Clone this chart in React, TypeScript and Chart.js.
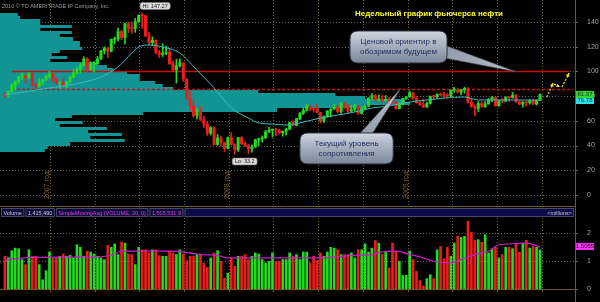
import React, { useEffect, useRef } from "react";
import { Chart, registerables } from "chart.js";

Chart.register(...registerables);

const FONT = "'Liberation Sans', Arial, 'DejaVu Sans', sans-serif";

// ---------- weekly candles (index 0 = week of 1 Oct 2007) ----------
const OPEN = [
  81.66, 81.22, 83.69, 88.60, 91.86, 95.93, 96.32, 95.10, 98.18, 88.71,
  88.28, 91.27, 93.31, 96.00, 97.91, 92.69, 90.57, 90.71, 88.96, 91.77,
  95.50, 98.81, 101.84, 105.15, 110.21, 101.84, 105.62, 106.23, 110.14, 116.69,
  118.52, 116.32, 125.96, 126.29, 132.19, 127.35, 138.54, 134.86, 134.62, 140.21,
  145.29, 145.08, 128.88, 123.26, 125.10, 115.20, 113.77, 114.59, 115.46, 106.23,
  101.18, 104.55, 106.89, 93.88, 77.70, 71.85, 64.15, 67.81, 61.04, 57.04,
  49.93, 54.43, 40.81, 46.28, 42.36, 37.71, 46.34, 40.83, 36.51, 46.47,
  41.68, 40.17, 37.51, 38.94, 44.76, 45.52, 46.25, 51.06, 52.38, 52.51,
  52.24, 50.33, 51.55, 53.20, 58.63, 56.34, 61.67, 66.31, 68.44, 72.04,
  69.55, 69.16, 66.73, 59.89, 63.56, 68.05, 69.45, 70.93, 67.51, 73.89,
  72.74, 68.02, 69.29, 72.04, 66.02, 69.95, 71.77, 78.53, 80.50, 77.00,
  77.43, 76.35, 76.72, 76.05, 75.47, 69.87, 73.36, 78.05, 79.36, 82.75,
  78.00, 74.54, 72.89, 71.19, 74.13, 79.81, 79.66, 81.50, 81.24, 80.68,
  80.00, 84.87, 84.92, 83.24, 85.12, 86.15, 75.11, 71.61, 70.04, 74.00,
  71.51, 73.78, 77.18, 78.86, 72.14, 76.09, 76.01, 78.98, 78.95, 80.70,
  75.39, 73.46, 75.17, 74.60, 76.45, 73.66, 76.49,
];
const HIGH = [
  82.10, 84.05, 90.07, 92.22, 96.24, 98.62, 96.85, 99.29, 98.20, 90.70,
  94.35, 93.46, 97.00, 100.09, 98.66, 94.70, 91.00, 93.82, 92.18, 96.67,
  101.32, 103.05, 106.54, 111.80, 111.10, 107.90, 108.00, 112.21, 117.00, 119.93,
  119.50, 126.20, 127.82, 135.09, 133.00, 139.12, 139.89, 139.89, 142.99, 145.85,
  147.27, 145.18, 131.60, 128.00, 125.50, 117.00, 122.30, 120.40, 118.40, 108.40,
  110.00, 110.10, 106.98, 94.00, 83.95, 76.40, 69.95, 71.33, 63.90, 59.62,
  55.26, 54.80, 49.00, 47.70, 42.90, 46.90, 50.47, 41.50, 46.60, 47.20,
  43.10, 40.90, 40.50, 45.20, 46.00, 47.80, 52.40, 54.66, 53.50, 53.90,
  53.20, 51.80, 54.10, 58.70, 60.10, 62.26, 66.65, 70.32, 73.23, 72.50,
  71.10, 73.38, 66.90, 64.00, 68.30, 69.90, 73.39, 72.40, 74.72, 75.00,
  73.00, 72.30, 73.30, 72.10, 70.80, 72.50, 78.69, 82.00, 81.40, 81.00,
  80.50, 80.51, 79.00, 79.00, 75.70, 74.50, 78.20, 79.50, 83.95, 82.90,
  79.70, 75.80, 77.70, 75.20, 80.20, 80.50, 81.80, 82.30, 83.00, 82.00,
  85.10, 87.09, 86.00, 85.50, 87.15, 87.00, 78.00, 73.00, 75.70, 75.50,
  75.50, 78.00, 79.80, 79.30, 76.70, 78.00, 79.60, 79.40, 82.97, 81.30,
  76.30, 75.50, 76.00, 77.00, 77.60, 77.00, 81.90,
];
const LOW = [
  79.40, 79.10, 83.20, 84.97, 90.20, 93.70, 90.56, 94.00, 88.09, 86.18,
  87.24, 89.00, 92.60, 94.60, 91.70, 89.48, 86.11, 88.11, 86.82, 90.90,
  95.00, 97.80, 98.50, 104.30, 100.01, 100.50, 99.55, 105.70, 109.50, 114.10,
  111.20, 115.70, 122.20, 124.50, 125.61, 122.30, 131.41, 131.00, 131.60, 139.50,
  135.00, 127.82, 121.52, 120.80, 114.20, 111.34, 112.00, 113.40, 105.46, 100.10,
  90.51, 103.50, 92.00, 77.60, 68.57, 62.85, 61.30, 60.11, 54.67, 48.25,
  48.50, 40.50, 40.30, 39.50, 35.13, 37.30, 40.50, 33.20, 35.20, 40.80,
  39.10, 33.55, 34.60, 38.40, 40.00, 42.80, 45.60, 50.50, 46.80, 48.10,
  49.20, 47.50, 48.50, 52.90, 55.80, 55.90, 60.90, 65.05, 67.80, 68.30,
  67.10, 66.50, 58.32, 58.80, 63.00, 63.05, 69.20, 66.30, 66.10, 70.00,
  66.50, 67.00, 67.60, 65.05, 65.50, 68.80, 71.20, 77.00, 76.50, 76.00,
  75.10, 76.00, 72.40, 74.20, 69.50, 69.70, 73.30, 77.30, 79.10, 77.40,
  74.30, 72.40, 70.60, 70.70, 73.50, 77.00, 78.10, 80.20, 78.70, 78.60,
  79.50, 83.00, 82.50, 80.90, 82.40, 74.30, 70.80, 64.24, 67.50, 71.00,
  70.80, 73.40, 75.50, 71.90, 71.80, 74.60, 75.50, 75.80, 78.30, 74.90,
  73.00, 71.10, 71.90, 73.50, 73.00, 72.70, 76.30,
];
const CLOSE = [
  81.22, 83.69, 88.60, 91.86, 95.93, 96.32, 95.10, 98.18, 88.71, 88.28,
  91.27, 93.31, 96.00, 97.91, 92.69, 90.57, 90.71, 88.96, 91.77, 95.50,
  98.81, 101.84, 105.15, 110.21, 101.84, 105.62, 106.23, 110.14, 116.69, 118.52,
  116.32, 125.96, 126.29, 132.19, 127.35, 138.54, 134.86, 134.62, 140.21, 145.29,
  145.08, 128.88, 123.26, 125.10, 115.20, 113.77, 114.59, 115.46, 106.23, 101.18,
  104.55, 106.89, 93.88, 77.70, 71.85, 64.15, 67.81, 61.04, 57.04, 49.93,
  54.43, 40.81, 46.28, 42.36, 37.71, 46.34, 40.83, 36.51, 46.47, 41.68,
  40.17, 37.51, 38.94, 44.76, 45.52, 46.25, 51.06, 52.38, 52.51, 52.24,
  50.33, 51.55, 53.20, 58.63, 56.34, 61.67, 66.31, 68.44, 72.04, 69.55,
  69.16, 66.73, 59.89, 63.56, 68.05, 69.45, 70.93, 67.51, 73.89, 72.74,
  68.02, 69.29, 72.04, 66.02, 69.95, 71.77, 78.53, 80.50, 77.00, 77.43,
  76.35, 76.72, 76.05, 75.47, 69.87, 73.36, 78.05, 79.36, 82.75, 78.00,
  74.54, 72.89, 71.19, 74.13, 79.81, 79.66, 81.50, 81.24, 80.68, 80.00,
  84.87, 84.92, 83.24, 85.12, 86.15, 75.11, 71.61, 70.04, 74.00, 71.51,
  73.78, 77.18, 78.86, 72.14, 76.09, 76.01, 78.98, 78.95, 80.70, 75.39,
  73.46, 75.17, 74.60, 76.45, 73.66, 76.49, 81.37,
];
// weekly volume, millions
const VOLUME = [
  1.17, 1.11, 1.37, 1.46, 1.44, 1.05, 0.87, 1.40, 1.17, 1.17,
  0.87, 0.33, 0.65, 1.32, 1.11, 1.11, 1.17, 1.25, 1.17, 1.20,
  1.11, 1.58, 1.49, 1.17, 1.35, 1.32, 1.25, 1.17, 1.11, 1.05,
  1.56, 1.49, 1.61, 1.23, 1.68, 1.64, 1.25, 1.23, 0.87, 1.49,
  1.40, 1.40, 1.29, 1.40, 1.40, 1.19, 1.17, 1.17, 1.35, 1.29,
  1.23, 1.40, 1.25, 1.01, 1.17, 1.17, 1.23, 1.23, 0.93, 0.77,
  1.11, 1.29, 1.37, 0.99, 0.39, 0.57, 1.11, 0.81, 1.17, 1.17,
  1.23, 1.05, 1.17, 1.29, 1.25, 1.05, 0.93, 0.99, 1.29, 0.99,
  0.99, 1.05, 1.05, 1.29, 1.17, 1.23, 1.05, 1.32, 1.32, 0.93,
  1.17, 1.02, 1.29, 1.17, 1.32, 1.49, 1.46, 1.40, 1.23, 1.23,
  1.23, 1.29, 1.11, 1.40, 1.40, 1.61, 1.32, 1.46, 1.73, 1.64,
  1.23, 1.35, 0.75, 1.64, 1.35, 0.99, 0.48, 0.49, 1.35, 1.05,
  0.63, 0.30, 0.10, 0.37, 0.51, 0.37, 1.40, 1.52, 1.08, 1.49,
  1.17, 1.64, 1.88, 1.85, 1.88, 2.42, 2.02, 1.74, 1.76, 1.67,
  1.94, 1.29, 1.44, 1.49, 1.11, 1.23, 1.49, 1.49, 1.44, 1.61,
  1.31, 1.64, 1.74, 1.46, 1.52, 1.49, 1.40,
];
// moving average of price: [week, price]
const PRICE_MA = [
  [0, 81], [13, 86.6], [22, 90.6], [28, 95.5], [33, 103.6], [39, 119.7], [42, 121.4],
  [46, 119.7], [51, 114.9], [56, 101], [61, 86.6], [66, 70.5], [71, 62.3], [74, 58.3],
  [78, 57.4], [82, 56.6], [87, 59], [92, 62.3], [97, 64.7], [102, 67.2], [107, 70.4],
  [112, 72], [116, 74.4], [123, 76.9], [134, 79.3], [138, 76.9], [146, 76.9], [156, 76.78],
];
// SimpleMovingAvg(VOLUME,20): [week, millions]
const VOLUME_SMA = [
  [0, 1.02], [8, 1.13], [28, 1.15], [32, 1.25], [34, 1.35], [49, 1.35], [53, 1.3],
  [57, 1.23], [62, 1.2], [65, 1.11], [86, 1.11], [96, 1.13], [101, 1.2], [107, 1.23],
  [110, 1.33], [114, 1.35], [118, 1.23], [121, 1.15], [125, 0.99], [130, 0.93],
  [133, 1.05], [137, 1.23], [141, 1.35], [144, 1.58], [149, 1.62], [152, 1.64], [156, 1.5055],
];
// volume-at-price profile: lower edge of each 2.5 bin and relative size (% of width)
const PROFILE_STEP = 2.5;
const PROFILE_LOW = [
  35, 37.5, 40, 42.5, 45, 47.5, 50, 52.5, 55, 57.5, 60, 62.5, 65, 67.5, 70, 72.5,
  75, 77.5, 80, 82.5, 85, 87.5, 90, 92.5, 95, 97.5, 100, 102.5, 105, 107.5, 110,
  112.5, 115, 117.5, 120, 122.5, 125, 127.5, 130, 132.5, 135, 137.5, 140, 142.5, 145,
];
const PROFILE_SIZE = [
  7.8, 8.3, 12.2, 21.7, 15.7, 21.2, 15.3, 18.6, 10.4, 14.4, 9.6, 12.5, 24.9, 48.2, 63.5, 71.3,
  70.4, 63.5, 58.3, 44.9, 30.1, 28.3, 27.0, 24.3, 24.3, 22.1, 19.7, 18.6, 16.9, 8.7, 11.7,
  9.0, 10.4, 14.3, 13.9, 13.9, 12.7, 10.4, 12.5, 7.0, 12.5, 7.0, 7.0, 3.5, 3.1,
];
// time axis (quarter starts, in weeks)
const QUARTER_POS = [13.14, 26.14, 39.14, 52.29, 65.43, 78.29, 91.29, 104.43, 117.57, 130.43, 143.43, 156.57];
const QUARTER_LABELS = ["08", "апр", "июл", "окт", "09", "апр", "июл", "окт", "10", "апр", "июл", "окт"];
const YEAR_LINE_POS = [13.14, 65.43, 117.57];
const YEAR_TEXTS = ["2007 год", "2008 год", "2009 год"];
const PRICE_TICKS = [0, 20, 40, 60, 80, 100, 120, 140];
const VOLUME_TICKS = [0, 1, 2];
const X_MIN = -1.43;
const X_MAX = 166.2;
const TARGET_LEVEL = 100;
const RESIST_LEVEL = 85.5;
const LEVEL_FROM = 2.1;
const TARGET_TO = 164.4;
const RESIST_TO = 165.8;
const LAST_MA = 76.78;
const CALLOUT_TEXTS = [["Ценовой ориентир в", "обозримом будущем"], ["Текущий уровень", "сопротивления"]];
const CALLOUT_BOX = [[100.6, 128.9, 132.7, 106.8], [86.0, 113.2, 50.2, 25.1]];
const CALLOUT_BASE = [[[126.5, 123.0], [126.5, 111.7]], [[102.4, 46.5], [106.4, 46.5]]];
const CALLOUT_TIP = [[149.3, 99.5], [115.5, 86.6]];
const ARROWS = [
  [[158.0, 79.3], [159.8, 90.6]],
  [[160.1, 89.8], [161.8, 87.4]],
  [[162.4, 87.4], [164.5, 98.7]],
];
const HEADER_TEXT = ["Volume", "1,415,490", "SimpleMovingAvg (VOLUME, 20, 0)", "1,505,531.9"];
const HEADER_COLOR = ["#c9c9dc", "#c9c9dc", "#e040e0", "#e040e0"];

const UP = "#22dc22";
const DOWN = "#ee1d1d";
const GOLD = "#6e5a2a";
const GRID_GOLD = "rgba(125,100,45,0.95)";
const GRID_GREY = "rgba(105,105,105,0.9)";
const PROFILE_COLOR = "#129494";
const MA_COLOR = "#38bcbc";
const SMA_COLOR = "#c41fc4";

const candleColors = CLOSE.map((c, i) => (c >= OPEN[i] ? UP : DOWN));

function seg(ctx: any, x0: number, y0: number, x1: number, y1: number) {
  ctx.beginPath();
  ctx.moveTo(x0, y0);
  ctx.lineTo(x1, y1);
  ctx.stroke();
}
function dotted(ctx: any, x0: number, y0: number, x1: number, y1: number, color: string) {
  ctx.save();
  ctx.strokeStyle = color;
  ctx.lineWidth = 1;
  ctx.setLineDash([1, 2]);
  seg(ctx, x0, y0, x1, y1);
  ctx.restore();
}
function rrect(ctx: any, x: number, y: number, w: number, h: number, r: number) {
  ctx.beginPath();
  ctx.moveTo(x + r, y);
  ctx.lineTo(x + w - r, y);
  ctx.quadraticCurveTo(x + w, y, x + w, y + r);
  ctx.lineTo(x + w, y + h - r);
  ctx.quadraticCurveTo(x + w, y + h, x + w - r, y + h);
  ctx.lineTo(x + r, y + h);
  ctx.quadraticCurveTo(x, y + h, x, y + h - r);
  ctx.lineTo(x, y + r);
  ctx.quadraticCurveTo(x, y, x + r, y);
  ctx.closePath();
}
function valueBox(ctx: any, left: number, cy: number, text: string, bg: string, fg: string) {
  ctx.fillStyle = bg;
  ctx.fillRect(left, Math.round(cy - 3.5), 18, 7);
  ctx.fillStyle = fg;
  ctx.font = `6px ${FONT}`;
  ctx.textAlign = "center";
  ctx.textBaseline = "middle";
  ctx.fillText(text, left + 9, Math.round(cy - 3.5) + 3.8);
}
function tagLabel(ctx: any, text: string, left: number, top: number) {
  ctx.font = `5.5px ${FONT}`;
  const w = ctx.measureText(text).width + 5;
  rrect(ctx, left, top, w, 7, 2);
  ctx.fillStyle = "#dcdcdc";
  ctx.fill();
  ctx.strokeStyle = "#777";
  ctx.lineWidth = 0.6;
  ctx.stroke();
  ctx.fillStyle = "#111";
  ctx.textAlign = "left";
  ctx.textBaseline = "middle";
  ctx.fillText(text, left + 2.5, top + 3.8);
}

const pricePlugin = {
  id: "priceDecor",
  beforeDatasetsDraw(chart: any) {
    const { ctx, chartArea: ca, scales } = chart;
    const x = scales.x, y = scales.y, xp = scales.xp;
    ctx.save();
    PRICE_TICKS.forEach((v) => {
      const py = Math.round(y.getPixelForValue(v)) + 0.5;
      dotted(ctx, ca.left, py, ca.right, py, GRID_GREY);
    });
    QUARTER_POS.forEach((v) => {
      const px = Math.round(x.getPixelForValue(v)) + 0.5;
      dotted(ctx, px, ca.top, px, ca.bottom, GRID_GOLD);
    });
    ctx.fillStyle = PROFILE_COLOR;
    PROFILE_LOW.forEach((lo, k) => {
      const yt = Math.round(y.getPixelForValue(lo + PROFILE_STEP));
      const yb = Math.round(y.getPixelForValue(lo));
      const xr = xp.getPixelForValue(PROFILE_SIZE[k]);
      ctx.fillRect(ca.left, yt, xr - ca.left, yb - yt);
    });
    // key levels
    ctx.strokeStyle = "#c21212";
    ctx.lineWidth = 1.5;
    const yt = Math.round(y.getPixelForValue(TARGET_LEVEL)) + 0.5;
    seg(ctx, x.getPixelForValue(LEVEL_FROM), yt, x.getPixelForValue(TARGET_TO), yt);
    ctx.strokeStyle = "#c01818";
    ctx.lineWidth = 1.3;
    ctx.setLineDash([3, 2]);
    const yr = Math.round(y.getPixelForValue(RESIST_LEVEL)) + 0.5;
    seg(ctx, x.getPixelForValue(LEVEL_FROM), yr, x.getPixelForValue(RESIST_TO), yr);
    ctx.restore();
  },
  afterDraw(chart: any) {
    const { ctx, chartArea: ca, scales } = chart;
    const X = (v: number) => scales.x.getPixelForValue(v);
    const Y = (v: number) => scales.y.getPixelForValue(v);
    ctx.save();
    // right axis
    ctx.strokeStyle = GOLD;
    ctx.lineWidth = 1;
    seg(ctx, ca.right + 0.5, 0, ca.right + 0.5, chart.height);
    PRICE_TICKS.forEach((v) => {
      const py = Math.round(Y(v)) + 0.5;
      seg(ctx, ca.right, py, ca.right + 3, py);
    });
    // year texts
    ctx.fillStyle = "#7f6631";
    ctx.font = `7px ${FONT}`;
    YEAR_LINE_POS.forEach((pos, k) => {
      ctx.save();
      ctx.translate(X(pos) - 2.5, ca.bottom - 7);
      ctx.rotate(-Math.PI / 2);
      ctx.textAlign = "left";
      ctx.textBaseline = "middle";
      ctx.fillText(YEAR_TEXTS[k], 0, 0);
      ctx.restore();
    });
    // copyright + title
    ctx.fillStyle = "#9d9d9d";
    ctx.font = `5.5px ${FONT}`;
    ctx.textAlign = "left";
    ctx.textBaseline = "middle";
    ctx.fillText("2010 © TD AMERITRADE IP Company, Inc.", ca.left + 2, ca.top + 6);
    ctx.fillStyle = "#ffff2e";
    ctx.font = `bold 8px ${FONT}`;
    ctx.textAlign = "center";
    ctx.fillText("Недельный график фьючерса нефти", ca.left + 429, ca.top + 14);
    // hi / lo tags
    const hi = HIGH.indexOf(Math.max(...HIGH));
    const lo = LOW.indexOf(Math.min(...LOW));
    tagLabel(ctx, `Hi: ${HIGH[hi]}`, X(hi) - 2, Y(HIGH[hi]) - 10.5);
    tagLabel(ctx, `Lo: ${LOW[lo]}`, X(lo) - 2.5, Y(LOW[lo]) + 4);
    // callouts
    CALLOUT_BOX.forEach((b, k) => {
      const [w0, w1, pt, pb] = b;
      const x0 = X(w0), x1 = X(w1), y0 = Y(pt), y1 = Y(pb);
      const [b1, b2] = CALLOUT_BASE[k];
      const tip = CALLOUT_TIP[k];
      ctx.beginPath();
      ctx.moveTo(X(b1[0]), Y(b1[1]));
      ctx.lineTo(X(tip[0]), Y(tip[1]));
      ctx.lineTo(X(b2[0]), Y(b2[1]));
      ctx.closePath();
      const tg = ctx.createLinearGradient(X(b1[0]), Y(b1[1]), X(tip[0]), Y(tip[1]));
      tg.addColorStop(0, "rgba(150,160,178,0.95)");
      tg.addColorStop(1, "rgba(205,210,220,0.9)");
      ctx.fillStyle = tg;
      ctx.fill();
      ctx.strokeStyle = "rgba(60,66,78,0.9)";
      ctx.lineWidth = 0.7;
      ctx.stroke();
      const g = ctx.createLinearGradient(0, y0, 0, y1);
      g.addColorStop(0, "#cfd6e0");
      g.addColorStop(0.45, "#a6b0c0");
      g.addColorStop(1, "#7b879b");
      rrect(ctx, x0, y0, x1 - x0, y1 - y0, 8);
      ctx.fillStyle = g;
      ctx.fill();
      ctx.strokeStyle = "#2c323d";
      ctx.lineWidth = 1;
      ctx.stroke();
      ctx.fillStyle = "#1b2b58";
      ctx.font = `8px ${FONT}`;
      ctx.textAlign = "center";
      ctx.textBaseline = "middle";
      const lines = CALLOUT_TEXTS[k];
      const cx = (x0 + x1) / 2, cy = (y0 + y1) / 2;
      lines.forEach((t, i) => ctx.fillText(t, cx, cy + (i - (lines.length - 1) / 2) * 10));
    });
    // yellow dashed arrows
    ctx.strokeStyle = "#f2e41c";
    ctx.fillStyle = "#f2e41c";
    ctx.lineWidth = 1.2;
    ARROWS.forEach(([a, b]) => {
      const ax = X(a[0]), ay = Y(a[1]), bx = X(b[0]), by = Y(b[1]);
      ctx.setLineDash([2, 1.5]);
      seg(ctx, ax, ay, bx, by);
      ctx.setLineDash([]);
      const ang = Math.atan2(by - ay, bx - ax);
      const L = 4;
      ctx.beginPath();
      ctx.moveTo(bx, by);
      ctx.lineTo(bx - L * Math.cos(ang - 0.5), by - L * Math.sin(ang - 0.5));
      ctx.lineTo(bx - L * Math.cos(ang + 0.5), by - L * Math.sin(ang + 0.5));
      ctx.closePath();
      ctx.fill();
    });
    // last values on axis
    valueBox(ctx, ca.right + 1, Y(LAST_MA), LAST_MA.toFixed(2), "#2fe0e0", "#083060");
    const last = CLOSE[CLOSE.length - 1];
    valueBox(ctx, ca.right + 1, Y(last), last.toFixed(2), "#30d830", "#0a2a0a");
    ctx.restore();
  },
};

const volumePlugin = {
  id: "volumeDecor",
  beforeDatasetsDraw(chart: any) {
    const { ctx, chartArea: ca, scales } = chart;
    ctx.save();
    VOLUME_TICKS.slice(1).forEach((v) => {
      const py = Math.round(scales.y.getPixelForValue(v)) + 0.5;
      dotted(ctx, ca.left, py, ca.right, py, GRID_GREY);
    });
    QUARTER_POS.forEach((v) => {
      const px = Math.round(scales.x.getPixelForValue(v)) + 0.5;
      dotted(ctx, px, ca.top, px, ca.bottom, GRID_GOLD);
    });
    ctx.restore();
  },
  afterDraw(chart: any) {
    const { ctx, chartArea: ca, scales } = chart;
    ctx.save();
    ctx.strokeStyle = GOLD;
    ctx.lineWidth = 1;
    seg(ctx, 0, 0.5, ca.right, 0.5);
    seg(ctx, ca.right + 0.5, 0, ca.right + 0.5, chart.height);
    seg(ctx, ca.left, ca.bottom + 0.5, ca.right, ca.bottom + 0.5);
    VOLUME_TICKS.forEach((v) => {
      const py = Math.round(scales.y.getPixelForValue(v)) + 0.5;
      seg(ctx, ca.right, py, ca.right + 3, py);
    });
    QUARTER_POS.forEach((v) => {
      const px = Math.round(scales.x.getPixelForValue(v)) + 0.5;
      seg(ctx, px, ca.bottom, px, ca.bottom + 3);
    });
    // header
    ctx.font = `5.5px ${FONT}`;
    ctx.textBaseline = "middle";
    let left = 1;
    const top = 2, h = 9;
    HEADER_TEXT.forEach((t, i) => {
      const w = ctx.measureText(t).width + 5;
      ctx.fillStyle = "#0d0d3c";
      ctx.fillRect(left, top, w, h);
      ctx.strokeStyle = "#474766";
      ctx.strokeRect(left + 0.5, top + 0.5, w - 1, h - 1);
      ctx.fillStyle = HEADER_COLOR[i];
      ctx.textAlign = "left";
      ctx.fillText(t, left + 2.5, top + h / 2 + 0.5);
      left += w + 1;
    });
    ctx.fillStyle = "#0c0c4a";
    ctx.fillRect(left, top, ca.right - 1 - left, h);
    ctx.strokeStyle = "#474766";
    ctx.strokeRect(left + 0.5, top + 0.5, ca.right - 2 - left, h - 1);
    ctx.fillStyle = "#c4c4d4";
    ctx.textAlign = "right";
    ctx.fillText("<millions>", ca.right - 3, top + h / 2 + 0.5);
    // last SMA value
    const lastSma = VOLUME_SMA[VOLUME_SMA.length - 1][1];
    valueBox(ctx, ca.right + 1, scales.y.getPixelForValue(lastSma), lastSma.toFixed(4), "#ff34ff", "#2a002a");
    ctx.restore();
  },
};

const tickFont = { size: 7, family: FONT };

export default function App() {
  const priceRef = useRef<HTMLCanvasElement>(null);
  const volRef = useRef<HTMLCanvasElement>(null);

  useEffect(() => {
    document.body.style.margin = "0";
    document.body.style.background = "#000";
    Chart.defaults.font.family = FONT;

    const price = new Chart(priceRef.current as HTMLCanvasElement, {
      type: "bar",
      data: {
        datasets: [
          {
            type: "line",
            data: PRICE_MA.map(([x, y]) => ({ x, y })),
            borderColor: MA_COLOR,
            borderWidth: 1,
            pointRadius: 0,
            cubicInterpolationMode: "monotone",
            xAxisID: "x",
            yAxisID: "y",
            order: 0,
          } as any,
          {
            data: OPEN.map((o, i) => ({ x: i, y: [o, CLOSE[i]] })),
            backgroundColor: candleColors,
            barThickness: 2.4,
            minBarLength: 1,
            grouped: false,
            xAxisID: "x",
            yAxisID: "y",
            order: 1,
          } as any,
          {
            data: LOW.map((l, i) => ({ x: i, y: [l, HIGH[i]] })),
            backgroundColor: candleColors,
            barThickness: 1,
            grouped: false,
            xAxisID: "x",
            yAxisID: "y",
            order: 2,
          } as any,
        ],
      },
      options: {
        animation: false,
        responsive: false,
        maintainAspectRatio: false,
        events: [],
        layout: { padding: 0, autoPadding: false } as any,
        plugins: { legend: { display: false }, tooltip: { enabled: false } },
        scales: {
          x: { type: "linear", min: X_MIN, max: X_MAX, display: false, offset: false },
          xp: { type: "linear", axis: "x", position: "top", min: 0, max: 100, display: false, offset: false } as any,
          y: {
            type: "linear",
            position: "right",
            min: -8.9,
            max: 157.77,
            grid: { display: false },
            border: { display: false },
            afterBuildTicks: (s: any) => {
              s.ticks = PRICE_TICKS.map((v) => ({ value: v }));
            },
            afterFit: (s: any) => {
              s.width = 25;
              s.paddingTop = 0;
              s.paddingBottom = 0;
            },
            ticks: { color: "#a8a8a8", font: tickFont, padding: 4, callback: (v: any) => String(v) },
          },
        },
      } as any,
      plugins: [pricePlugin],
    });

    const volume = new Chart(volRef.current as HTMLCanvasElement, {
      type: "bar",
      data: {
        datasets: [
          {
            type: "line",
            data: VOLUME_SMA.map(([x, y]) => ({ x, y })),
            borderColor: SMA_COLOR,
            borderWidth: 1.2,
            pointRadius: 0,
            cubicInterpolationMode: "monotone",
            order: 0,
          } as any,
          {
            data: VOLUME.map((v, i) => ({ x: i, y: v })),
            backgroundColor: candleColors,
            barThickness: 2,
            grouped: false,
            order: 1,
          } as any,
        ],
      },
      options: {
        animation: false,
        responsive: false,
        maintainAspectRatio: false,
        events: [],
        layout: { padding: { top: 12, left: 0, right: 0, bottom: 0 }, autoPadding: false } as any,
        plugins: { legend: { display: false }, tooltip: { enabled: false } },
        scales: {
          x: {
            type: "linear",
            min: X_MIN,
            max: X_MAX,
            offset: false,
            grid: { display: false },
            border: { display: false },
            afterBuildTicks: (s: any) => {
              s.ticks = QUARTER_POS.map((v) => ({ value: v }));
            },
            afterFit: (s: any) => {
              s.height = 13;
              s.paddingLeft = 0;
              s.paddingRight = 0;
            },
            ticks: {
              autoSkip: false,
              maxRotation: 0,
              minRotation: 0,
              color: "#a8a8a8",
              font: tickFont,
              padding: 4,
              callback: (_v: any, i: number) => QUARTER_LABELS[i],
            },
          },
          y: {
            type: "linear",
            position: "right",
            min: 0,
            max: 2.536,
            grid: { display: false },
            border: { display: false },
            afterBuildTicks: (s: any) => {
              s.ticks = VOLUME_TICKS.map((v) => ({ value: v }));
            },
            afterFit: (s: any) => {
              s.width = 25;
              s.paddingTop = 0;
              s.paddingBottom = 0;
            },
            ticks: { color: "#a8a8a8", font: tickFont, padding: 4, callback: (v: any) => String(v) },
          },
        },
      } as any,
      plugins: [volumePlugin],
    });

    return () => {
      price.destroy();
      volume.destroy();
    };
  }, []);

  return (
    <div style={{ position: "relative", width: 600, height: 302, background: "#000", overflow: "hidden" }}>
      <canvas
        ref={priceRef}
        width={600}
        height={206}
        style={{ position: "absolute", left: 0, top: 0, width: 600, height: 206 }}
      />
      <canvas
        ref={volRef}
        width={600}
        height={96}
        style={{ position: "absolute", left: 0, top: 206, width: 600, height: 96 }}
      />
    </div>
  );
}
